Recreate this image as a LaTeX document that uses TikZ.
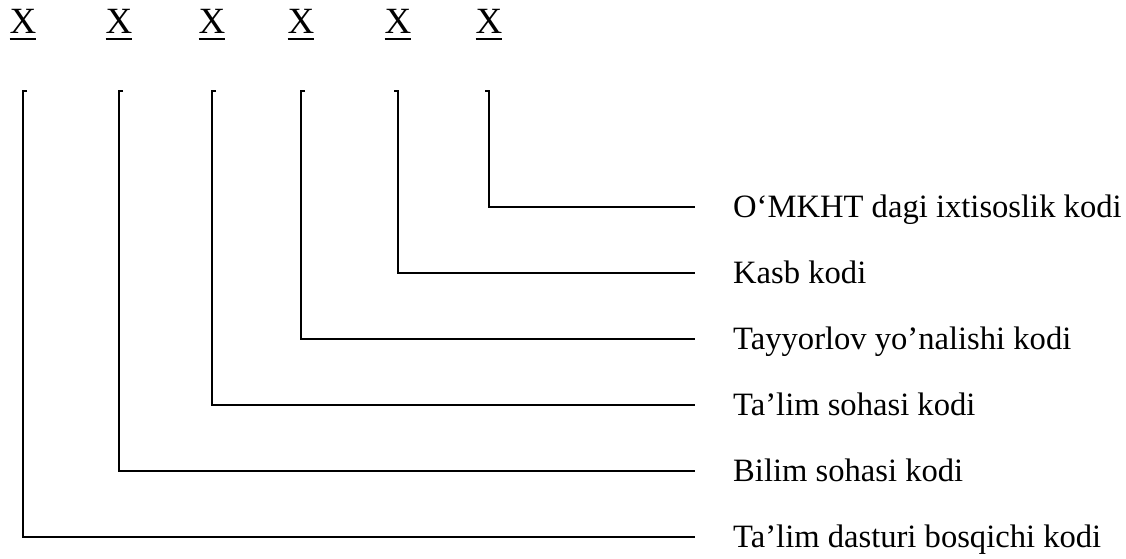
\documentclass[tikz,border=0pt]{standalone}
\usepackage{fontspec}
\setmainfont{Liberation Serif}
\newcommand\ulX{\setbox0\hbox{X}\rlap{\rule[-6.5pt]{\wd0}{2pt}}\box0}
\begin{document}
\begin{tikzpicture}[x=1pt,y=-1pt,
  digit/.style={anchor=base,inner sep=0pt,font=\fontsize{37}{44}\selectfont},
  lbl/.style={anchor=base west,inner sep=0pt,font=\fontsize{32.6}{40}\selectfont},
  wire/.style={line width=1.5pt,line join=miter}]
\useasboundingbox (0,0) rectangle (1126,558);
% digits
\foreach \i/\x in {1/23,2/119,3/212,4/301,5/398,6/489}{
  \node[digit] (d\i) at (\x,33) {\ulX};
}
% bracket tops
\foreach \i/\x in {1/23,2/119,3/212,4/301,5/398,6/489}{
  \coordinate (t\i) at (\x,91);
}
% line ends and labels
\foreach \i/\y/\t in {1/537/{Ta’lim dasturi bosqichi kodi},
                     2/471/{Bilim sohasi kodi},
                     3/405/{Ta’lim sohasi kodi},
                     4/339/{Tayyorlov yo’nalishi kodi},
                     5/273/{Kasb kodi},
                     6/207/{O‘MKHT dagi ixtisoslik kodi}}{
  \coordinate (e\i) at (695,\y);
  \node[lbl] (l\i) at (733,\y+10.5) {\t};
}
% connectors
\foreach \i in {1,2,3,4}{
  \draw[wire] ([xshift=4pt]t\i) -- (t\i) |- (e\i);
}
\foreach \i in {5,6}{
  \draw[wire] ([xshift=-4pt]t\i) -- (t\i) |- (e\i);
}
\end{tikzpicture}
\end{document}
